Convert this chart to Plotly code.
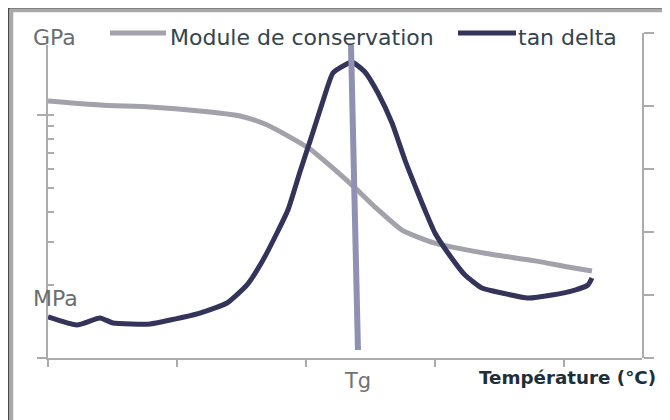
import plotly.graph_objects as go

# ---- data (x in arbitrary temperature units, 1 unit = 1 tick) ----
mod_temp = [0.0, 0.403, 0.791, 1.178, 1.488, 1.682, 1.876, 2.031, 2.225, 2.380,
            2.535, 2.744, 2.884, 3.0, 3.388, 3.775, 4.031, 4.217]
mod_pa = [1.142e9, 1.099e9, 1.079e9, 1.039e9, 0.991e9, 0.918e9, 0.811e9, 0.724e9,
          0.594e9, 0.501e9, 0.418e9, 0.336e9, 0.312e9, 0.297e9, 0.270e9, 0.251e9,
          0.237e9, 0.228e9]

tan_temp = [0.0, 0.225, 0.403, 0.504, 0.791, 0.946, 1.178, 1.388, 1.543, 1.667,
            1.775, 1.860, 1.953, 2.047, 2.124, 2.209, 2.302, 2.357, 2.457, 2.558,
            2.667, 2.767, 2.868, 2.922, 3.0, 3.101, 3.233, 3.364, 3.519, 3.721,
            3.907, 4.085, 4.186, 4.217]
tan_delta = [0.651, 0.524, 0.635, 0.556, 0.540, 0.603, 0.714, 0.873, 1.159, 1.556,
             1.984, 2.349, 2.952, 3.540, 4.032, 4.524, 4.651, 4.698, 4.540, 4.206,
             3.730, 3.143, 2.619, 2.349, 1.984, 1.667, 1.317, 1.111, 1.032, 0.952,
             1.0, 1.079, 1.159, 1.270]

tg_temp = [2.349, 2.403]
tg_level = [4.968, 0.127]

x_ticks = [0, 1, 2, 3, 4]
x_range = [0, 4.605]
mod_major = [1e8, 1e9]
mod_minor = [2e8, 3e8, 4e8, 5e8, 6e8, 7e8, 8e8, 9e8]
mod_range_log = [8, 9.288]
tan_ticks = [0, 1, 2, 3, 4, 5.159]
tan_range = [0, 5.159]

series_names = ["Module de conservation", "tan delta"]
unit_top, unit_bottom = "GPa", "MPa"
tg_label = "Tg"
x_title = "Température (°C)"

# ---- layout geometry (page pixels; the page body has an 8px margin) ----
OFF = 8
W, H = 670 - OFF, 420 - OFF
AX_L, AX_R, AX_T, AX_B = 48, 642, 33, 358          # page coords of plot area
L, R, T, B = AX_L - OFF, W - (AX_R - OFF), AX_T - OFF, H - (AX_B - OFF)
PW, PH = W - L - R, H - T - B


def xp(px):
    return (px - AX_L) / PW


def yp(py):
    return (AX_B - py) / PH


GRAY = "#a2a2aa"
NAVY = "#34345a"
TGC = "#9090b2"
AX = "#ababab"
FONT = "DejaVu Sans"

fig = go.Figure()
fig.add_trace(go.Scatter(x=mod_temp, y=mod_pa, mode="lines", xaxis="x", yaxis="y",
                         line=dict(color=GRAY, width=5, shape="spline", smoothing=0.6),
                         name=series_names[0], showlegend=False, hoverinfo="skip"))
fig.add_trace(go.Scatter(x=tan_temp, y=tan_delta, mode="lines", xaxis="x", yaxis="y2",
                         line=dict(color=NAVY, width=5, shape="spline", smoothing=0.5),
                         name=series_names[1], showlegend=False, hoverinfo="skip"))
fig.add_trace(go.Scatter(x=tg_temp, y=tg_level, mode="lines", xaxis="x", yaxis="y2",
                         line=dict(color=TGC, width=6), showlegend=False, hoverinfo="skip"))

fig.update_layout(
    width=W, height=H, margin=dict(l=L, r=R, t=T, b=B, autoexpand=False),
    paper_bgcolor="white", plot_bgcolor="rgba(0,0,0,0)", showlegend=False,
    xaxis=dict(range=x_range, tickvals=x_ticks, ticks="outside", ticklen=7, tickwidth=2,
               tickcolor=AX, showticklabels=False, showline=True, linecolor=AX, linewidth=2,
               showgrid=False, zeroline=False, anchor="y", fixedrange=True),
    yaxis=dict(type="log", range=mod_range_log, domain=[0, yp(45)], tickvals=mod_major,
               ticks="outside", ticklen=9, tickwidth=2, tickcolor=AX, showticklabels=False,
               showline=True, linecolor=AX, linewidth=2, showgrid=False, zeroline=False,
               minor=dict(tickvals=mod_minor + [1e9], ticks="inside", ticklen=6, tickwidth=2,
                          tickcolor=AX, showgrid=False),
               anchor="x"),
    yaxis2=dict(range=tan_range, domain=[0, 1], side="right", anchor="x",
                tickvals=tan_ticks, ticks="outside", ticklen=10, tickwidth=2, tickcolor=AX,
                showticklabels=False, showline=True, linecolor=AX, linewidth=2,
                showgrid=False, zeroline=False),
)

shapes = [
    dict(type="rect", xref="paper", yref="paper", x0=xp(8.75), x1=xp(700), y0=yp(8.0), y1=yp(450),
         line=dict(color="#4a4a4a", width=1.5), layer="above"),
    dict(type="rect", xref="paper", yref="paper", x0=xp(11.5), x1=xp(700), y0=yp(10.5), y1=yp(450),
         line=dict(color="#a9a9a9", width=3.5), layer="above"),
    dict(type="line", xref="paper", yref="paper", x0=xp(110), x1=xp(166), y0=yp(33), y1=yp(33),
         line=dict(color=GRAY, width=5)),
    dict(type="line", xref="paper", yref="paper", x0=xp(458), x1=xp(516), y0=yp(33), y1=yp(33),
         line=dict(color=NAVY, width=5)),
]
fig.update_layout(shapes=shapes)

ann = [
    dict(text=series_names[0], x=xp(169), y=yp(37), xanchor="left", yanchor="middle",
         font=dict(family=FONT, size=22, color="#33444c")),
    dict(text=series_names[1], x=xp(517), y=yp(37), xanchor="left", yanchor="middle",
         font=dict(family=FONT, size=22, color="#33444c")),
    dict(text=unit_top, x=xp(32), y=yp(38), xanchor="left", yanchor="middle",
         font=dict(family=FONT, size=22, color="#6a6e70")),
    dict(text=unit_bottom, x=xp(32), y=yp(298), xanchor="left", yanchor="middle",
         font=dict(family=FONT, size=22, color="#6a6e70")),
    dict(text=tg_label, x=xp(357), y=yp(381), xanchor="center", yanchor="middle",
         font=dict(family=FONT, size=21, color="#707274")),
    dict(text="<b>" + x_title + "</b>", x=xp(478), y=yp(377), xanchor="left", yanchor="middle",
         font=dict(family=FONT, size=18.3, color="#1e2f38")),
]
for a in ann:
    a.update(xref="paper", yref="paper", showarrow=False, borderpad=0)
fig.update_layout(annotations=ann)

fig.write_html("out.html")
